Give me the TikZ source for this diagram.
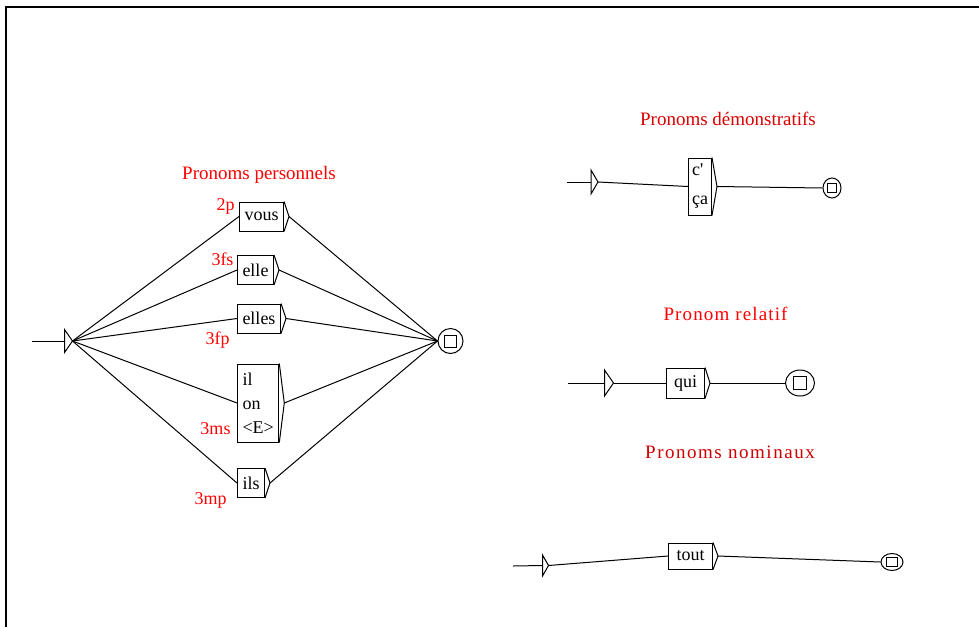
\documentclass[tikz,border=0pt]{standalone}
\usepackage{fontspec}
\setmainfont{Liberation Serif}
\usepackage{xcolor}
\usepackage{tikz}
\usetikzlibrary{shapes,positioning,calc}

\begin{document}
\begin{tikzpicture}[
    x=1pt, y=-1pt,
    line width=1pt,
    box/.style={rectangle, draw, minimum height=29pt, inner xsep=5pt, inner ysep=4pt, align=left,
      font=\fontsize{18}{24}\selectfont,
      append after command={\pgfextra{\let\boxnode\tikzlastnode
        \draw (\boxnode.north east) -- ([xshift=5pt]\boxnode.east) coordinate (\boxnode-tip) -- (\boxnode.south east);}}},
    init/.style={inner sep=0pt, minimum width=7pt, minimum height=22pt,
      append after command={\pgfextra{\let\ininode\tikzlastnode
        \draw (\ininode.north west) -- (\ininode.east) -- (\ininode.south west) -- cycle;}}},
    final/.style={ellipse, draw, inner sep=0pt, minimum width=25pt, minimum height=25pt,
      path picture={\draw ($(path picture bounding box.south west)!0.26!(path picture bounding box.north east)$)
        rectangle ($(path picture bounding box.south west)!0.74!(path picture bounding box.north east)$);}},
    lab/.style={text=red, inner sep=0pt, font=\fontsize{18}{20}\selectfont},
    title/.style={inner sep=0pt, font=\fontsize{19}{22}\selectfont}
]
    \useasboundingbox (0,0) rectangle (979,627);
    \draw[line width=2pt] (6,627) -- (6,7) -- (979,7);

    % Pronoms personnels
    \node[title, text=red] (t1) at (259,174.5) {Pronoms personnels};
    \coordinate (in1) at (32,341);
    \node[init] (ini1) at (68.5,341) {};
    \node[box, anchor=west] (vous) at (239,216.5) {vous};
    \node[box, anchor=west] (elle) at (237,270) {elle};
    \node[box, anchor=west] (elles) at (237,318.5) {elles};
    \node[box, anchor=west, minimum height=78pt] (ilon) at (237,403) {il\\on\\<E>};
    \node[box, anchor=west] (ils) at (237,483) {ils};
    \node[final] (fin1) at (450.5,341) {};

    % Codes
    \node[lab, left=4pt of vous.north west, yshift=-5pt] (l2p) {2p};
    \node[lab, left=3pt of elle.north west, yshift=-4pt] (l3fs) {3fs};
    \node[lab, left=7pt of elles.south west, yshift=-7pt] (l3fp) {3fp};
    \node[lab, left=6pt of ilon.south west, yshift=14pt] (l3ms) {3ms};
    \node[lab, left=10pt of ils.south west, yshift=-2pt] (l3mp) {3mp};

    % Connections
    \draw (in1) -- (ini1.west);
    \draw (ini1.east) -- (vous.west);
    \draw (ini1.east) -- (elle.west);
    \draw (ini1.east) -- (elles.west);
    \draw (ini1.east) -- (ilon.west);
    \draw (ini1.east) -- (ils.west);
    \draw (vous-tip) -- (fin1.west);
    \draw (elle-tip) -- (fin1.west);
    \draw (elles-tip) -- (fin1.west);
    \draw (ilon-tip) -- (fin1.west);
    \draw (ils-tip) -- (fin1.west);

    % Pronoms demonstratifs
    \node[title, text=red!85!black] (t2) at (728,118.5) {Pronoms démonstratifs};
    \coordinate (in2) at (567,182);
    \node[init, minimum width=6pt, minimum height=23pt] (ini2) at (594.5,182) {};
    \node[box, anchor=west, minimum height=57pt, inner xsep=3.5pt, font=\fontsize{18}{29}\selectfont] (cca) at (688,186.5) {c\textquotesingle\\ça};
    \node[final, minimum width=18pt, minimum height=20pt] (fin2) at (832,188) {};
    \draw (in2) -- (ini2.west);
    \draw (ini2.east) -- (cca.west);
    \draw (cca-tip) -- (fin2.west);

    % Pronom relatif
    \node[title, text=red] (t3) at (725.5,313.5) {\addfontfeature{LetterSpace=6}Pronom relatif};
    \coordinate (in3) at (568,383);
    \node[init, minimum width=8pt, minimum height=25pt] (ini3) at (609,383) {};
    \node[box, anchor=west, minimum width=38pt, minimum height=30pt] (qui) at (666,383) {qui};
    \node[final, minimum width=29pt, minimum height=26pt] (fin3) at (800,383) {};
    \draw (in3) -- (ini3.west);
    \draw (ini3.east) -- (qui.west);
    \draw (qui-tip) -- (fin3.west);

    % Pronoms nominaux
    \node[title, text=red!80!black] (t4) at (730,452.5) {\addfontfeature{LetterSpace=8}Pronoms nominaux};
    \coordinate (in4) at (513,566);
    \node[init, minimum width=5pt, minimum height=20pt] (ini4) at (545.5,565.5) {};
    \node[box, anchor=west, minimum width=44pt, minimum height=26pt] (tout) at (668,556) {tout};
    \node[final, minimum width=22pt, minimum height=17pt] (fin4) at (892,562) {};
    \draw (in4) -- (ini4.west);
    \draw (ini4.east) -- (tout.west);
    \draw (tout-tip) -- (fin4.west);
\end{tikzpicture}
\end{document}
